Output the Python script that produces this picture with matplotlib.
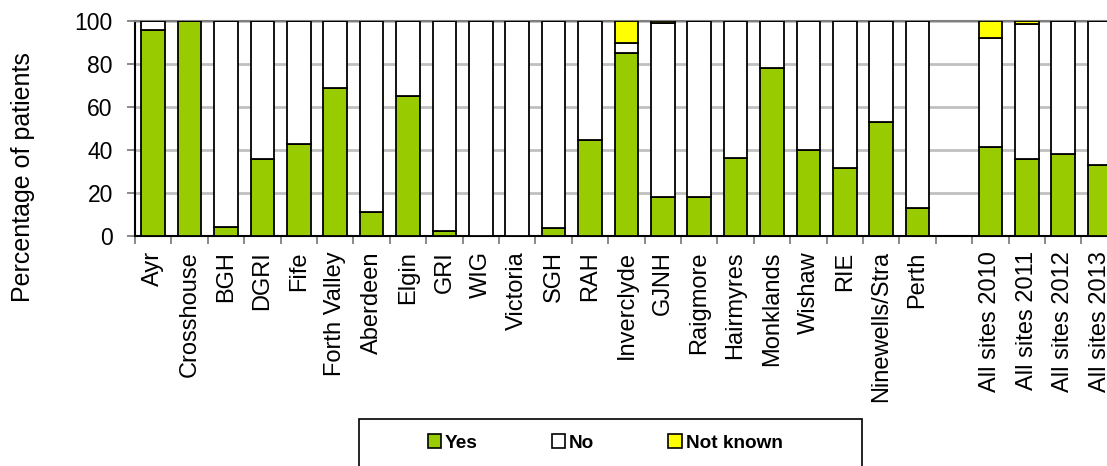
import numpy as np
import matplotlib
matplotlib.use("Agg")
from matplotlib import pyplot as plt
from matplotlib.patches import Patch, Rectangle

plt.rcParams['font.family'] = ['Liberation Sans', 'DejaVu Sans']

# Categories (blank slot separates hospitals from the yearly totals)
sites = ['Ayr', 'Crosshouse', 'BGH', 'DGRI', 'Fife', 'Forth Valley', 'Aberdeen',
         'Elgin', 'GRI', 'WIG', 'Victoria', 'SGH', 'RAH', 'Inverclyde', 'GJNH',
         'Raigmore', 'Hairmyres', 'Monklands', 'Wishaw', 'RIE', 'Ninewells/Stra',
         'Perth', '', 'All sites 2010', 'All sites 2011', 'All sites 2012',
         'All sites 2013']
yes = [96, 100, 4, 36, 43, 69, 11, 65, 2.5, 0, 0, 3.5, 44.5, 85, 18,
       18, 36.5, 78, 40, 31.5, 53, 13, 0, 41.5, 36, 38, 33]
no = [4, 0, 96, 64, 57, 31, 89, 35, 97.5, 100, 100, 96.5, 55.5, 5, 81,
      82, 63.5, 22, 60, 68.5, 47, 87, 0, 50.5, 62.5, 62, 67]
not_known = [0, 0, 0, 0, 0, 0, 0, 0, 0, 0, 0, 0, 0, 10, 1,
             0, 0, 0, 0, 0, 0, 0, 0, 8, 1.5, 0, 0]

green = '#99CC00'
yellow = '#FFFF00'

fig = plt.figure(figsize=(11.07, 4.66), dpi=100)
# axes run slightly past the right edge, as in the original (cropped) chart
ax = fig.add_axes([135 / 1107, 1 - 236 / 466, 982.8 / 1107, 215 / 466])

x = np.arange(len(sites))
yes = np.array(yes)
no = np.array(no)
not_known = np.array(not_known)
w = 0.65
kw = dict(width=w, edgecolor='black', linewidth=1.3, zorder=3)
ax.bar(x, yes, color=green, **kw)
ax.bar(x, no, bottom=yes, color='white', **kw)
ax.bar(x, not_known, bottom=yes + no, color=yellow, **kw)

ax.set_xlim(-0.5, len(sites) - 0.5)
ax.set_ylim(0, 100)
ax.set_yticks(range(0, 101, 20))
ax.yaxis.grid(True, color='#c0c0c0', linewidth=2, zorder=0)
ax.set_axisbelow(True)

ax.set_xticks(x)
ax.set_xticklabels(sites, rotation=90, fontsize=17)
ax.tick_params(axis='x', which='major', length=0, pad=11)
ax.set_xticks(np.arange(-0.5, len(sites), 1), minor=True)
ax.tick_params(axis='x', which='minor', length=6, color='#808080', width=1.3)
ax.tick_params(axis='y', labelsize=16.5, length=6, color='#808080', width=1.3, pad=10)

for s in ['left', 'bottom']:
    ax.spines[s].set_linewidth(1.5)
ax.spines['top'].set_color('#808080')
ax.spines['top'].set_linewidth(1.5)
ax.spines['right'].set_visible(False)

fig.text(23 / 1107, 1 - 177 / 466, 'Percentage of patients', rotation=90,
         fontsize=18, ha='center', va='center')

# legend box (bottom runs off the figure)
fig.patches.append(Rectangle((359 / 1107, -0.05), (862 - 359) / 1107, 0.05 + 47 / 466,
                             transform=fig.transFigure, facecolor='white',
                             edgecolor='black', linewidth=1.2))
handles = [Patch(facecolor=green, edgecolor='black', linewidth=1.2),
           Patch(facecolor='white', edgecolor='black', linewidth=1.2),
           Patch(facecolor=yellow, edgecolor='black', linewidth=1.2)]
fig.legend(handles, ['Yes', 'No', 'Not known'], loc='center',
           bbox_to_anchor=(605 / 1107, 1 - 443 / 466), ncol=3, frameon=False,
           prop={'weight': 'bold', 'size': 13.7}, handlelength=0.7, handleheight=0.7,
           handletextpad=0.2, columnspacing=3.9)

fig.savefig('out.png', dpi=100)
